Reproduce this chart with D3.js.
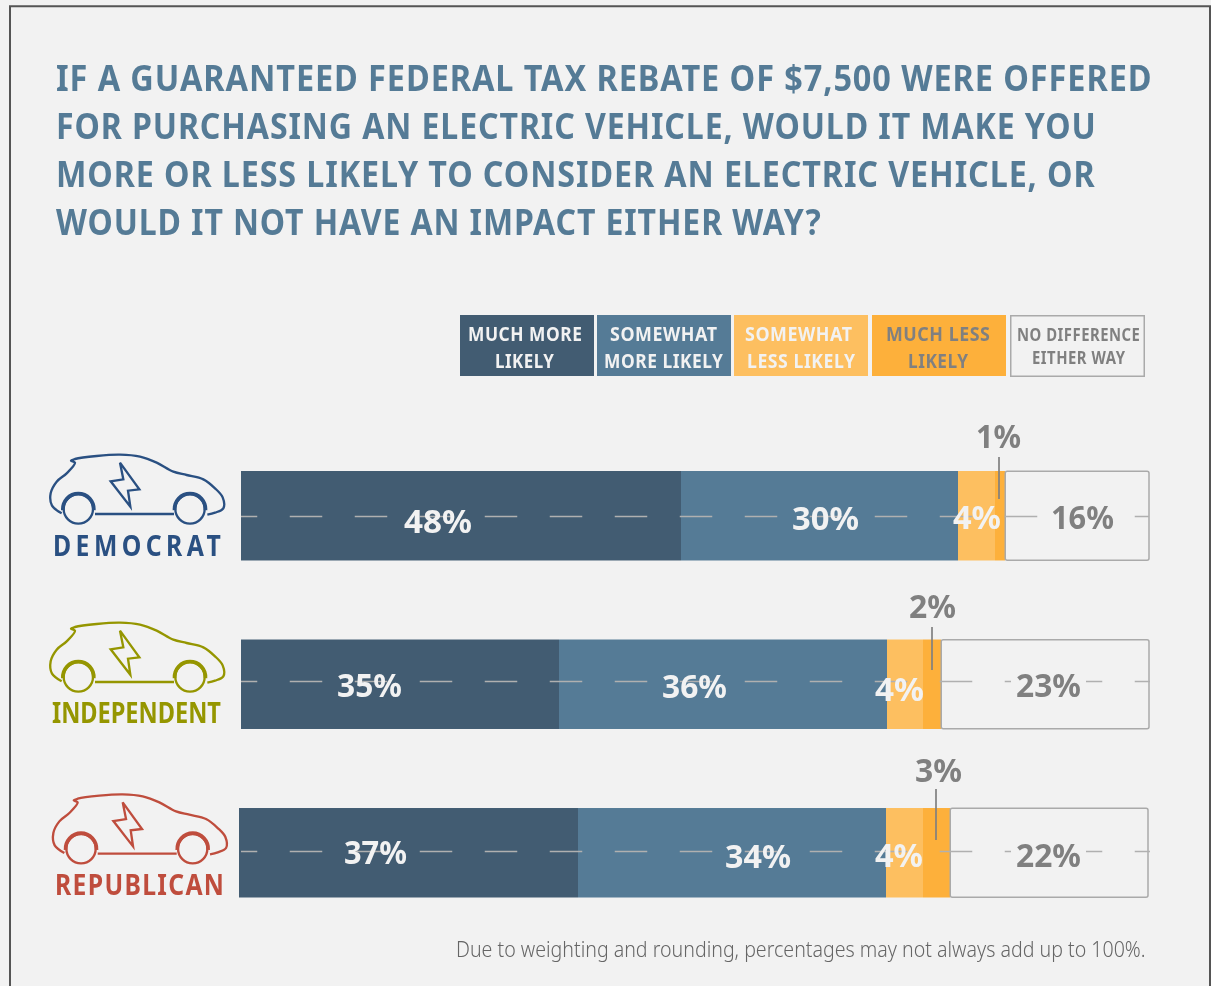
<!DOCTYPE html>
<html lang="en">
  <head>
    <meta charset="utf-8" />
    <title>Tax rebate and electric vehicles</title>
    <script src="https://cdnjs.cloudflare.com/ajax/libs/d3/7.8.5/d3.min.js"></script>
    <style type="text/css">
      html, body { margin: 0; padding: 0; background: #f2f2f2; }
      svg { display: block; font-family: "Noto Sans", sans-serif; font-weight: 700; will-change: transform; }
      .note { font-weight: 300; }
    </style>
  </head>

  <body>
    <div id="chart"></div>

    <script>
      // Data: widths, the printed labels are rounded.
      const parties = ['DEMOCRAT', 'INDEPENDENT', 'REPUBLICAN'];
      const muchMoreLikely = [48.5, 35, 37.3];
      const somewhatMoreLikely = [30.5, 36.1, 33.9];
      const somewhatLessLikely = [4, 4, 4.1];
      const muchLessLikely = [1.1, 2, 2.9];
      const noDifference = [15.9, 22.9, 21.8];

      const muchMoreLabels = ['48%', '35%', '37%'];
      const somewhatMoreLabels = ['30%', '36%', '34%'];
      const somewhatLessLabels = ['4%', '4%', '4%'];
      const muchLessLabels = ['1%', '2%', '3%'];
      const noDifferenceLabels = ['16%', '23%', '22%'];

      const titleLines = [
        'IF A GUARANTEED FEDERAL TAX REBATE OF $7,500 WERE OFFERED',
        'FOR PURCHASING AN ELECTRIC VEHICLE, WOULD IT MAKE YOU',
        'MORE OR LESS LIKELY TO CONSIDER AN ELECTRIC VEHICLE, OR',
        'WOULD IT NOT HAVE AN IMPACT EITHER WAY?'
      ];
      const legendLabels = [
        ['MUCH MORE', 'LIKELY'],
        ['SOMEWHAT', 'MORE LIKELY'],
        ['SOMEWHAT', 'LESS LIKELY'],
        ['MUCH LESS', 'LIKELY'],
        ['NO DIFFERENCE', 'EITHER WAY']
      ];
      const note = 'Due to weighting and rounding, percentages may not always add up to 100%.';

      // Layout and colours.
      const seriesValues = [muchMoreLikely, somewhatMoreLikely, somewhatLessLikely, muchLessLikely, noDifference];
      const seriesLabels = [muchMoreLabels, somewhatMoreLabels, somewhatLessLabels, muchLessLabels, noDifferenceLabels];
      const seriesColors = ['#425c72', '#557b96', '#fdbf60', '#fdb03b', 'none'];
      const legendText = ['#f2f2f2', '#f2f2f2', '#f2f2f2', '#808080', '#808080'];
      const legendX = [[460, 594], [597, 731], [734, 868], [872, 1006], [1010, 1145]];
      const legendTextX = [
        [[468, 582], [495, 554]],
        [[610, 717], [604, 723]],
        [[745, 852], [747, 855]],
        [[886, 990], [908, 968]],
        [[1017, 1140], [1032, 1125]]
      ];
      const partyColors = ['#2a5082', '#959600', '#bf4d3d'];
      const partyTextX = [[53, 221], [52, 221], [55, 224]];
      const partySpacing = [5, 0, 1.5];
      const partyBaseline = [555.5, 723, 895];
      const carShift = [[0, 0], [0, 168], [2.7, 339.7]];
      const barRanges = [[241, 1149], [241, 1149], [239, 1148]];
      const dashRanges = [[241, 1149], [241, 1150], [241, 1150]];
      const dashY = [516.5, 681.5, 851.5];
      const titleEnds = [1152, 1096, 1095, 821];
      const titleBaselines = [91, 139, 187, 235];

      // [start, end, baseline] of the percentage inside each segment, per party.
      const labelSpots = [
        [[404, 472, 533], [792, 859, 530], [953, 1001, 529], null, [1051, 1114, 529]],
        [[337, 402, 697], [662, 727, 698], [875, 924, 701], null, [1016, 1081, 697]],
        [[344, 407, 864], [725, 791, 868], [875, 923, 867], null, [1016, 1081, 867]]
      ];
      // Outside label and leader line for the thin "much less likely" segment.
      const calloutText = [[976, 1021, 448], [909, 956, 618], [915, 962, 782]];
      const calloutLine = [[999, 457, 499], [932, 627, 670], [936, 789, 840]];

      // Car icon, traced in a 3x grid and scaled down when drawn.
      const carBody = [[185, 220], [156, 197], [152, 160], [170, 125], [200, 100], [225, 68], [213, 62], [225, 57],
        [290, 48], [360, 44], [420, 50], [470, 68], [520, 95], [560, 105], [610, 118], [645, 145], [668, 172],
        [670, 205], [645, 218], [622, 224]];
      const carBolt = [[360, 68], [418, 148], [384, 152], [391, 200], [332, 124], [370, 118]];
      const carFloor = [[285, 222], [522, 222]];
      const carWheels = [235, 570];

      const width = 1211;
      const height = 986;

      const svg = d3.select('#chart').append('svg')
        .attr('width', width)
        .attr('height', height);

      // Frame, open at the bottom edge.
      svg.append('path')
        .attr('d', d3.line()([[10, height], [10, 6.3], [1210, 6.3], [1210, height]]))
        .attr('fill', 'none')
        .attr('stroke', '#555')
        .attr('stroke-width', 2);

      // Text squeezed sideways to the width it has in the picture.
      function fitText(parent, str, x0, x1, baseline, size, color, spacing = 0) {
        const t = parent.append('text')
          .attr('font-size', size)
          .attr('fill', color)
          .attr('letter-spacing', spacing)
          .text(str);
        const natural = t.node().getComputedTextLength() - spacing;
        return t.attr('transform', `translate(${x0},${baseline}) scale(${(x1 - x0) / natural},1)`);
      }

      // Title.
      titleLines.forEach((line, i) => {
        fitText(svg, line, 56, titleEnds[i], titleBaselines[i], 36, '#557b96', 1);
      });

      // Legend.
      legendLabels.forEach((lines, i) => {
        const isBox = seriesColors[i] === 'none';
        svg.append('rect')
          .attr('x', legendX[i][0] + (isBox ? 0.75 : 0))
          .attr('y', isBox ? 315.75 : 315)
          .attr('width', legendX[i][1] - legendX[i][0] - (isBox ? 1.5 : 0))
          .attr('height', isBox ? 60.5 : 61)
          .attr('fill', seriesColors[i])
          .attr('stroke', isBox ? '#aaa' : 'none')
          .attr('stroke-width', 1.5);
        lines.forEach((line, k) => {
          const baseline = isBox ? [341, 364][k] : [341, 368][k];
          fitText(svg, line, legendTextX[i][k][0], legendTextX[i][k][1], baseline, isBox ? 17.5 : 19.5, legendText[i], 0.6);
        });
      });

      // Rows.
      const y = d3.scaleBand()
        .domain(parties)
        .range([471, 897.5])
        .paddingInner(0.469);

      const carLine = d3.line().curve(d3.curveCatmullRom);
      const boltLine = d3.line().curve(d3.curveLinearClosed);
      const wheelArc = d3.arc()
        .innerRadius(41)
        .outerRadius(52)
        .startAngle(-1.65)
        .endAngle(1.65);

      parties.forEach((party, row) => {
        const x = d3.scaleLinear().domain([0, 100]).range(barRanges[row]);
        const starts = [0, ...d3.cumsum(seriesValues.map(s => s[row]))];
        const g = svg.append('g').attr('class', 'row');

        // Segments, on whole pixels so no seam shows between them.
        seriesValues.forEach((s, i) => {
          const isBox = seriesColors[i] === 'none';
          const x0 = Math.round(x(starts[i]));
          const x1 = Math.round(x(starts[i + 1]));
          g.append('rect')
            .attr('x', x0 + (isBox ? 0.25 : 0))
            .attr('y', y(party) + (isBox ? 0.25 : 0))
            .attr('width', x1 - x0 - (isBox ? 0.25 : 0))
            .attr('height', y.bandwidth() - (isBox ? 0.5 : 0))
            .attr('rx', isBox ? 2 : 0)
            .attr('fill', seriesColors[i])
            .attr('stroke', isBox ? '#aaa' : 'none')
            .attr('stroke-width', 1.5);
        });

        // Dashed line across the whole bar.
        g.append('line')
          .attr('x1', dashRanges[row][0])
          .attr('x2', dashRanges[row][1])
          .attr('y1', dashY[row])
          .attr('y2', dashY[row])
          .attr('stroke', '#b0b0b0')
          .attr('stroke-width', 1.7)
          .attr('stroke-dasharray', '32.5 32.5')
          .attr('stroke-dashoffset', 16.25);

        // Percentages. The grey one clears the dashes behind it.
        seriesLabels.forEach((labels, i) => {
          const spot = labelSpots[row][i];
          if (!spot) return;
          const isBox = seriesColors[i] === 'none';
          if (isBox) {
            g.append('rect')
              .attr('x', spot[0] - 5)
              .attr('y', spot[2] - 28)
              .attr('width', spot[1] - spot[0] + 10)
              .attr('height', 32)
              .attr('fill', '#f2f2f2');
          }
          fitText(g, labels[row], spot[0], spot[1], spot[2], 32, isBox ? '#808080' : '#f2f2f2');
        });

        // Callout for the thin segment.
        const ct = calloutText[row];
        const cl = calloutLine[row];
        fitText(g, muchLessLabels[row], ct[0], ct[1], ct[2], 32, '#808080');
        g.append('line')
          .attr('x1', cl[0])
          .attr('x2', cl[0])
          .attr('y1', cl[1])
          .attr('y2', cl[2])
          .attr('stroke', '#808080')
          .attr('stroke-width', 1.7);

        // Party name and car.
        fitText(g, party, partyTextX[row][0], partyTextX[row][1], partyBaseline[row], 28, partyColors[row], partySpacing[row]);

        const car = g.append('g')
          .attr('transform', `translate(${carShift[row][0]},${440 + carShift[row][1]}) scale(${1 / 3})`)
          .attr('fill', 'none')
          .attr('stroke', partyColors[row])
          .attr('stroke-width', 7);
        car.append('path').attr('d', carLine(carBody));
        car.append('path').attr('d', boltLine(carBolt));
        car.append('path').attr('d', d3.line()(carFloor));
        carWheels.forEach(cx => {
          car.append('circle').attr('cx', cx).attr('cy', 207).attr('r', 44);
          car.append('path')
            .attr('d', wheelArc())
            .attr('transform', `translate(${cx},207)`)
            .attr('fill', partyColors[row])
            .attr('stroke', 'none');
        });
      });

      // Footnote: its class goes on a wrapper so the width is measured at its own weight.
      fitText(svg.append('g').attr('class', 'note'), note, 456, 1146, 957, 21, '#666');
    </script>
  </body>
</html>
